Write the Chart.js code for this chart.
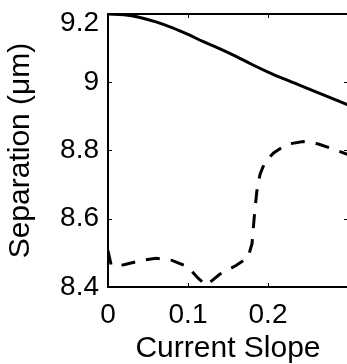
<!DOCTYPE html>
<html>
<head>
<meta charset="utf-8">
<script src="https://cdn.jsdelivr.net/npm/chart.js@4.4.1/dist/chart.umd.min.js"></script>
<style>
  html, body { margin: 0; padding: 0; background: #fff; overflow: hidden; width: 347px; height: 364px; }
  canvas { display: block; }
</style>
</head>
<body>
<canvas id="chart" width="360" height="364" style="width:360px;height:364px"></canvas>
<script>
// valores
const solidX = [0, 0.02, 0.04, 0.06, 0.08, 0.1, 0.12, 0.14, 0.16, 0.18, 0.2, 0.22, 0.24, 0.26, 0.28, 0.3];
const solidY = [9.2, 9.198, 9.19, 9.177, 9.16, 9.14, 9.118, 9.098, 9.076, 9.052, 9.03, 9.01, 8.991, 8.972, 8.953, 8.934];

const dashX = [0, 0.004, 0.02, 0.04, 0.06, 0.08, 0.1, 0.113, 0.123, 0.14, 0.16, 0.175, 0.18, 0.183, 0.186, 0.19, 0.196, 0.207, 0.223, 0.244, 0.263, 0.283, 0.3];
const dashY = [8.506, 8.464, 8.465, 8.477, 8.484, 8.478, 8.459, 8.425, 8.405, 8.438, 8.463, 8.486, 8.527, 8.61, 8.68, 8.73, 8.765, 8.793, 8.818, 8.826, 8.819, 8.803, 8.788];

const xTicks = [0, 0.1, 0.2];
const yTicks = [8.4, 8.6, 8.8, 9, 9.2];

const FONT = "'Liberation Sans', Arial, Helvetica, sans-serif";

const toPoints = (xs, ys) => xs.map((x, i) => ({ x: x, y: ys[i] }));

// ticks hacia adentro y borde superior
const boxPlugin = {
  id: "box",
  afterDatasetsDraw(chart) {
    const { ctx, chartArea: a, scales: { x, y } } = chart;
    ctx.save();
    ctx.strokeStyle = "#000";
    ctx.lineWidth = 1;
    ctx.beginPath();
    xTicks.forEach((v) => {
      const px = Math.round(x.getPixelForValue(v)) + 0.5;
      ctx.moveTo(px, a.bottom);
      ctx.lineTo(px, a.bottom - 4);
      ctx.moveTo(px, a.top);
      ctx.lineTo(px, a.top + 4);
    });
    yTicks.forEach((v) => {
      const py = Math.round(y.getPixelForValue(v)) + 0.5;
      ctx.moveTo(a.left, py);
      ctx.lineTo(a.left + 4, py);
      ctx.moveTo(a.right, py);
      ctx.lineTo(a.right - 4, py);
    });
    ctx.stroke();
    ctx.lineWidth = 2;
    ctx.beginPath();
    ctx.moveTo(a.left, a.top);
    ctx.lineTo(a.right, a.top);
    ctx.stroke();
    ctx.restore();
  },
};

const ctx = document.getElementById("chart").getContext("2d");

new Chart(ctx, {
  type: "line",
  data: {
    datasets: [
      {
        data: toPoints(solidX, solidY),
        borderColor: "#000",
        borderWidth: 3,
        pointRadius: 0,
        cubicInterpolationMode: "monotone",
        fill: false,
      },
      {
        data: toPoints(dashX, dashY),
        borderColor: "#000",
        borderWidth: 3,
        borderDash: [14, 11],
        pointRadius: 0,
        tension: 0,
        fill: false,
      },
    ],
  },
  options: {
    responsive: false,
    animation: false,
    layout: { padding: { left: 0, top: 14, right: 12, bottom: 0 } },
    plugins: { legend: { display: false }, tooltip: { enabled: false } },
    scales: {
      x: {
        type: "linear",
        min: 0,
        max: 0.3,
        grid: { display: false, drawTicks: false },
        border: { display: true, color: "#000", width: 2 },
        afterBuildTicks: (s) => { s.ticks = xTicks.map((v) => ({ value: v })); },
        afterFit: (s) => { s.height = 77; },
        ticks: {
          color: "#000",
          padding: 14,
          maxRotation: 0,
          font: { family: FONT, size: 28, lineHeight: 1 },
          callback: (v) => String(v),
        },
        title: {
          display: true,
          text: "Current Slope",
          color: "#000",
          padding: { top: 0, bottom: 0 },
          font: { family: FONT, size: 30, lineHeight: 1 },
        },
      },
      y: {
        type: "linear",
        min: 8.4,
        max: 9.2,
        grid: { display: false, drawTicks: false },
        border: { display: true, color: "#000", width: 2 },
        afterBuildTicks: (s) => { s.ticks = yTicks.map((v) => ({ value: v })); },
        afterFit: (s) => {
          s.width = 108;
          s.paddingTop = 0;
          s.paddingBottom = 0;
        },
        ticks: {
          color: "#000",
          padding: 9,
          // la etiqueta superior va un poco mas abajo, como en la figura
          font: (c) => ({ family: FONT, size: 28, lineHeight: c.tick && c.tick.value === 9.2 ? 0.65 : 1 }),
          callback: (v) => (v === 9.2 ? ["", "9.2"] : String(v)),
        },
        title: {
          display: true,
          text: "Separation (μm)",
          color: "#000",
          padding: { top: 6, bottom: 0 },
          font: { family: FONT, size: 30, lineHeight: 1 },
        },
      },
    },
  },
  plugins: [boxPlugin],
});
</script>
</body>
</html>
